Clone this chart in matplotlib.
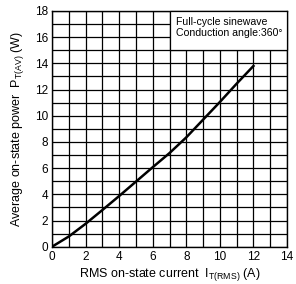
import matplotlib
matplotlib.use("Agg")
import matplotlib.pyplot as plt
import numpy as np
from matplotlib.patches import Rectangle

plt.rcParams['font.family'] = ['Liberation Sans', 'DejaVu Sans']
plt.rcParams['mathtext.fontset'] = 'custom'
plt.rcParams['mathtext.rm'] = 'Liberation Sans'
plt.rcParams['mathtext.it'] = 'Liberation Sans:italic'

current = [0, 1, 2, 3, 4, 5, 6, 7, 8, 9, 10, 11, 12]
power = [0, 0.78, 1.75, 2.8, 3.87, 4.97, 6.07, 7.15, 8.35, 9.7, 11.05, 12.45, 13.8]
xticks = [0, 2, 4, 6, 8, 10, 12, 14]
yticks = [0, 2, 4, 6, 8, 10, 12, 14, 16, 18]

fig = plt.figure(figsize=(2.96, 2.84), dpi=100)
ax = fig.add_axes([0.1757, 0.1313, 0.7939, 0.83])
ax.set_xlim(0, 14)
ax.set_ylim(0, 18)
ax.set_xticks(np.arange(0, 15, 1), minor=True)
ax.set_yticks(np.arange(0, 19, 1), minor=True)
ax.set_xticks(xticks)
ax.set_yticks(yticks)
ax.grid(True, which='both', color='black', linewidth=0.9)
ax.tick_params(which='both', length=0, labelsize=8.5, pad=3)
for s in ax.spines.values():
    s.set_linewidth(1.0)

ax.plot(current, power, color='black', linewidth=1.8, zorder=3)

ax.add_patch(Rectangle((7.0, 15.0), 7.0, 3.0, facecolor='white', edgecolor='black',
                       linewidth=0.9, zorder=4, clip_on=False))
ax.text(7.4, 17.15, "Full-cycle sinewave", fontsize=7.6, va='center', ha='left', zorder=5)
ax.text(7.4, 16.3, "Conduction angle:360°", fontsize=7.6, va='center', ha='left', zorder=5)

ax.set_xlabel(r"RMS on-state current  I$_{\mathrm{T(RMS)}}$ (A)", fontsize=9, labelpad=2)
ax.set_ylabel(r"Average on-state power  P$_{\mathrm{T(AV)}}$ (W)", fontsize=9, labelpad=6)

fig.savefig("out.png", dpi=100)
